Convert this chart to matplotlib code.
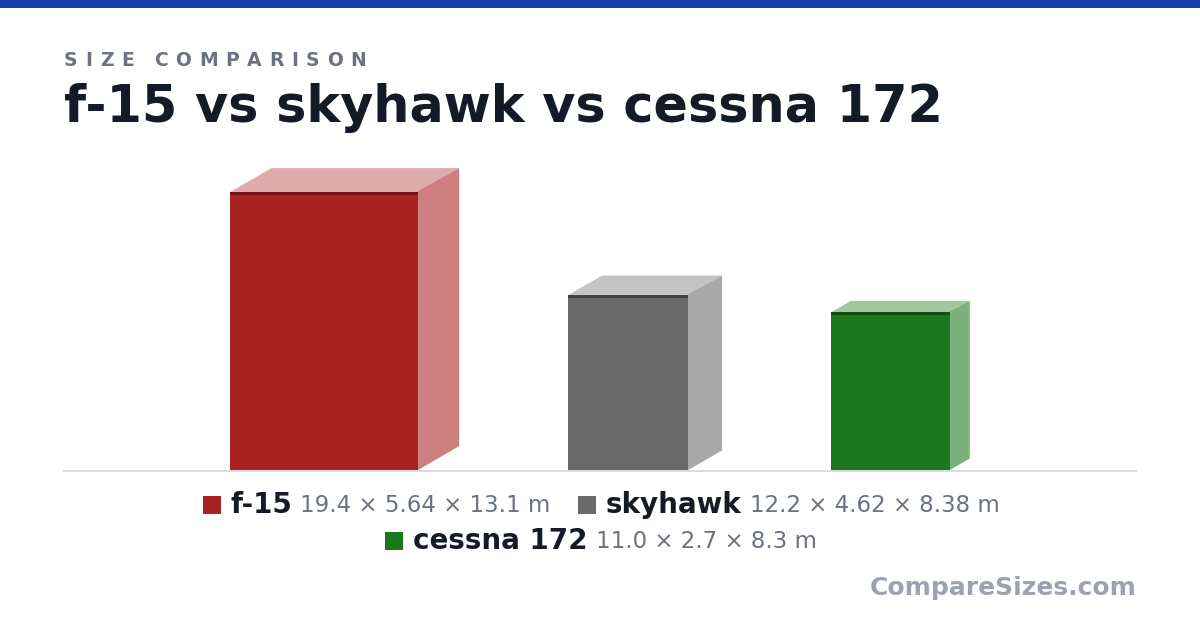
import matplotlib
matplotlib.use("Agg")
import matplotlib.pyplot as plt
from matplotlib.patches import Polygon, Rectangle

names = ["f-15", "skyhawk", "cessna 172"]
length = [19.4, 12.2, 11.0]
height = [5.64, 4.62, 2.7]
span = [13.1, 8.38, 8.3]
dims = ["19.4 × 5.64 × 13.1 m", "12.2 × 4.62 × 8.38 m", "11.0 × 2.7 × 8.3 m"]

front = ["#A82222", "#696969", "#1B771B"]
top = ["#E0ABAB", "#C4C4C4", "#A2C8A2"]
side = ["#CD7F7F", "#A8A8A8", "#7BB27B"]
edge = ["#6E1616", "#444444", "#124E12"]

W, H = 1200, 630
fig = plt.figure(figsize=(12, 6.3), dpi=100)
ax = fig.add_axes([0, 0, 1, 1])
ax.set_xlim(0, W)
ax.set_ylim(H, 0)
ax.axis("off")

# top stripe
ax.add_patch(Rectangle((0, 0), W, 8, color="#1440A8", lw=0))

fig.canvas.draw()
r = fig.canvas.get_renderer()


def tw(t):
    return t.get_window_extent(r).width


# letter-spaced kicker
x = 64
for ch in "SIZE COMPARISON":
    if ch == " ":
        x += 13
        continue
    t = ax.text(x, 60, ch, fontsize=13.5, fontweight="bold", color="#6B7280",
                va="center", ha="left")
    x += tw(t) + 7.6

ax.text(64, 108, "f-15 vs skyhawk vs cessna 172", fontsize=36.6, fontweight="bold",
        color="#141B26", va="center", ha="left")

# boxes
base = 470
s = 278 / max(length)   # px per metre
gap = 109
widths = [w * s for w in span]
dxs = [d * s * 0.51 for d in height]
total = sum(widths) + sum(dxs) + gap * (len(names) - 1)
x = 600 - total / 2
for i in range(len(names)):
    w, h, dx = widths[i], length[i] * s, dxs[i]
    dy = dx * 0.58
    yt = base - h
    ax.add_patch(Polygon([(x, yt), (x + dx, yt - dy), (x + w + dx, yt - dy), (x + w, yt)],
                         closed=True, color=top[i], lw=0))
    ax.add_patch(Polygon([(x + w - 1.5, yt), (x + w + dx, yt - dy), (x + w + dx, base - dy),
                          (x + w, base), (x + w - 1.5, base)],
                         closed=True, color=side[i], lw=0))
    ax.add_patch(Rectangle((x, yt), w, h, color=front[i], lw=0))
    ax.add_patch(Rectangle((x, yt), w, 3, color=edge[i], lw=0))
    x += w + dx + gap

ax.plot([64, 1136], [base + 1, base + 1], color="#D1D5DB", lw=1.2)

# legend rows
rows = [[0, 1], [2]]
ys = [505, 541]
for row, y in zip(rows, ys):
    items = []
    for i in row:
        t1 = ax.text(0, y, names[i], fontsize=20, fontweight="bold", color="#141B26",
                     va="center", ha="left")
        t2 = ax.text(0, y, dims[i], fontsize=16.5, color="#6B7280", va="center", ha="left")
        items.append((i, t1, t2))
    widths_row = [18 + 10 + tw(a) + 8 + tw(b) for _, a, b in items]
    tot = sum(widths_row) + 27 * (len(items) - 1)
    x = 601 - tot / 2
    for (i, t1, t2), wr in zip(items, widths_row):
        ax.add_patch(Rectangle((x, y - 9), 18, 18, color=front[i], lw=0))
        t1.set_x(x + 28)
        t2.set_x(x + 28 + tw(t1) + 8)
        x += wr + 27

ax.text(1137, 588, "CompareSizes.com", fontsize=18, fontweight="bold", color="#9CA3AF",
        va="center", ha="right")

fig.savefig("out.png", dpi=100, facecolor="white")
